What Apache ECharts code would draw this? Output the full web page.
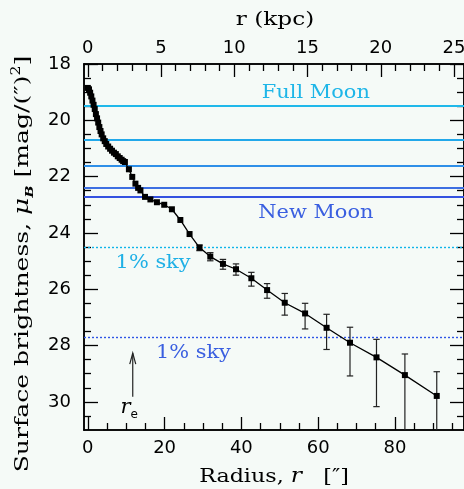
<!DOCTYPE html>
<html><head><meta charset="utf-8">
<script src="https://cdn.jsdelivr.net/npm/echarts@6/dist/echarts.min.js"></script>
<style>html,body{margin:0;padding:0;background:#f5faf7}#c{width:464px;height:489px}</style>
</head><body><div id="c"></div>
<script>
// ---- data ----
const profileR  = [0.0,0.3,0.6,0.9,1.2,1.5,1.8,2.1,2.4,2.7,3.0,3.3,3.6,4.0,4.4,4.8,5.3,5.8,6.3,6.8,7.3,7.8,8.3,8.8,9.2,9.66,10.7,11.57,12.4,13.1,13.7,14.9,16.3,18.0,19.9,21.9,24.1,26.5,29.1,31.9,35.2,38.6,42.6,46.7,51.3,56.6,62.2,68.3,75.2,82.6,90.9];
const profileMu = [18.85,18.9,19.02,19.15,19.3,19.45,19.6,19.78,19.93,20.08,20.24,20.38,20.5,20.64,20.74,20.84,20.93,21.01,21.08,21.15,21.2,21.28,21.34,21.4,21.45,21.48,21.74,22.01,22.25,22.4,22.49,22.72,22.81,22.91,23.0,23.16,23.54,24.04,24.52,24.84,25.1,25.29,25.61,26.03,26.48,26.86,27.37,27.9,28.42,29.05,29.79];
const errR      = [29.1,31.9,35.2,38.6,42.6,46.7,51.3,56.6,62.2,68.3,75.2,82.6,90.9];
const errTop    = [24.43,24.70,24.94,25.10,25.40,25.80,26.15,26.50,26.89,27.35,27.78,28.30,28.93];
const errBottom = [24.63,24.99,25.29,25.50,25.89,26.32,26.92,27.41,28.14,29.08,30.17,31.5,31.5];
const moonLevels = [19.5, 20.7, 21.6, 22.38, 22.7];
const skyLevels  = [24.51, 27.71];
const bottomTicks = [0, 20, 40, 60, 80];
const bottomMinor = [5,10,15,25,30,35,45,50,55,65,70,75,85,90,95];
const topTicks = [0, 5, 10, 15, 20, 25];
const topMinor = [1,2,3,4,6,7,8,9,11,12,13,14,16,17,18,19,21,22,23,24];
const yTicks = [18, 20, 22, 24, 26, 28, 30];
const yMinor = [18.5,19,19.5,20.5,21,21.5,22.5,23,23.5,24.5,25,25.5,26.5,27,27.5,28.5,29,29.5,30.5];
const arcsecPerKpc = 3.816;
const reRadius = 11.7;
const annotationTexts = ['Full Moon', 'New Moon', '1% sky', '1% sky', '{i|r}{s|e}'];

// ---- styles ----
const serif = '"DejaVu Serif", serif';
const sans = '"DejaVu Sans", sans-serif';
const moonColors = ['#1fb8ea', '#22a8ea', '#2e8fe8', '#3d6fe2', '#3552e0'];
const skyColors = ['#10b4ea', '#2f55e6'];
const annColors = ['#1fb6e8', '#3a5fe0', '#1fb0e6', '#3a5fe0', '#000'];
const XMIN = -1, XMAX = 98;

function ax(pos, min, max, ticks, len, labels, extra) {
  return Object.assign({
    type: 'value', position: pos, min: min, max: max,
    axisLine: {show: true, onZero: false, lineStyle: {color: '#000', width: 1.5}},
    axisTick: {show: true, inside: true, length: len, customValues: ticks, lineStyle: {color: '#000', width: 1.3}},
    axisLabel: labels ? Object.assign({show: true, customValues: ticks, margin: 10, color: '#000', fontSize: 18, fontFamily: sans}, labels) : {show: false},
    splitLine: {show: false}
  }, extra || {});
}

const chart = echarts.init(document.getElementById('c'), null, {renderer: 'canvas'});
const option = {
  animation: false,
  backgroundColor: '#f5faf7',
  grid: {left: 84, right: 0, top: 64, bottom: 59, outerBoundsMode: 'none', containLabel: false},
  xAxis: [
    ax('bottom', XMIN, XMAX, bottomTicks, 13, {margin: 9}),
    ax('bottom', XMIN, XMAX, bottomMinor, 7, null),
    ax('top', XMIN / arcsecPerKpc, XMAX / arcsecPerKpc, topTicks, 13, {margin: 7}),
    ax('top', XMIN / arcsecPerKpc, XMAX / arcsecPerKpc, topMinor, 7, null)
  ],
  yAxis: [
    ax('left', 18, 31, yTicks, 14, {margin: 13}, {inverse: true}),
    ax('left', 18, 31, yMinor, 7, null, {inverse: true}),
    ax('right', 18, 31, yTicks, 14, null, {inverse: true}),
    ax('right', 18, 31, yMinor, 7, null, {inverse: true})
  ],
  graphic: [
    {
      type: 'text', x: 23, y: 264, rotation: Math.PI / 2, scaleX: 1.32,
      style: {
        text: '{t|Surface brightness, }{i|μ}{sub|B}{t| [mag/(″)}{sup|2}{t|]}',
        align: 'center', verticalAlign: 'middle',
        rich: {
          t: {fontFamily: serif, fontSize: 19, fill: '#000'},
          i: {fontFamily: serif, fontStyle: 'italic', fontSize: 20, fill: '#000'},
          sub: {fontFamily: serif, fontStyle: 'italic', fontWeight: 'bold', fontSize: 11, fill: '#000', padding: [14, 0, 0, 0]},
          sup: {fontFamily: serif, fontSize: 12, fill: '#000', padding: [0, 0, 12, 0]}
        }
      }
    },
    {
      type: 'text', x: 275, y: 20, scaleX: 1.22,
      style: {text: 'r (kpc)', fontFamily: serif, fontSize: 19, fill: '#000', align: 'center', verticalAlign: 'middle'}
    },
    {
      type: 'text', x: 274, y: 477, scaleX: 1.17,
      style: {
        text: '{t|Radius, }{i|r}{t|   [″]}', align: 'center', verticalAlign: 'middle',
        rich: {t: {fontFamily: serif, fontSize: 19, fill: '#000'}, i: {fontFamily: serif, fontStyle: 'italic', fontSize: 20, fill: '#000'}}
      }
    }
  ],
  series: [
    {
      type: 'line', xAxisIndex: 0, yAxisIndex: 0,
      data: profileR.map((r, i) => [r, profileMu[i]]),
      symbol: 'rect', symbolSize: 6, showAllSymbol: true,
      itemStyle: {color: '#000'}, lineStyle: {color: '#000', width: 1.3},
      z: 5,
      markLine: {
        silent: true, symbol: ['none', 'none'], label: {show: false}, z: 2,
        data: moonLevels.map((v, i) => ({yAxis: v, lineStyle: {color: moonColors[i], width: 2, type: 'solid', opacity: 1}}))
          .concat(skyLevels.map((v, i) => ({yAxis: v, lineStyle: {color: skyColors[i], width: 1.4, type: [2, 2], opacity: 1}})))
      }
    },
    {
      type: 'custom', xAxisIndex: 0, yAxisIndex: 0, clip: true, z: 4,
      data: errR.map((r, i) => [r, errTop[i], errBottom[i]]),
      renderItem: function (params, api) {
        const x = api.value(0);
        const p1 = api.coord([x, api.value(1)]);
        const p2 = api.coord([x, api.value(2)]);
        const w = 3.2;
        const st = {stroke: '#222', lineWidth: 1.2};
        return {type: 'group', children: [
          {type: 'line', shape: {x1: p1[0], y1: p1[1], x2: p2[0], y2: p2[1]}, style: st},
          {type: 'line', shape: {x1: p1[0] - w, y1: p1[1], x2: p1[0] + w, y2: p1[1]}, style: st},
          {type: 'line', shape: {x1: p2[0] - w, y1: p2[1], x2: p2[0] + w, y2: p2[1]}, style: st}
        ]};
      }
    },
    {
      // r_e arrow
      type: 'custom', xAxisIndex: 0, yAxisIndex: 0, z: 4,
      data: [[reRadius, 29.82, 28.27]],
      renderItem: function (params, api) {
        const b = api.coord([api.value(0), api.value(1)]);
        const t = api.coord([api.value(0), api.value(2)]);
        const st = {stroke: '#222', lineWidth: 1.2, fill: null};
        return {type: 'group', children: [
          {type: 'line', shape: {x1: b[0], y1: b[1], x2: t[0], y2: t[1]}, style: st},
          {type: 'polyline', shape: {points: [[t[0] - 3, t[1] + 11], [t[0], t[1]], [t[0] + 3, t[1] + 11]]}, style: st}
        ]};
      }
    },
    {
      // text annotations
      type: 'custom', xAxisIndex: 0, yAxisIndex: 0, z: 6,
      data: [
        [59.4, 19.03, 0], [59.4, 23.29, 1], [17.0, 25.07, 2], [27.5, 28.27, 3], [10.8, 30.2, 4]
      ],
      renderItem: function (params, api) {
        const p = api.coord([api.value(0), api.value(1)]);
        const k = api.value(2);
        return {
          type: 'text', x: p[0], y: p[1], scaleX: k === 4 ? 1 : 1.1,
          style: {
            text: annotationTexts[k], fill: annColors[k], fontFamily: serif, fontSize: 19,
            align: 'center', verticalAlign: 'middle',
            rich: {
              i: {fontFamily: serif, fontStyle: 'italic', fontSize: 21, fill: '#000'},
              s: {fontFamily: sans, fontSize: 12, fill: '#000', padding: [14, 0, 0, 0]}
            }
          }
        };
      }
    }
  ]
};
chart.setOption(option);
</script>
</body></html>
